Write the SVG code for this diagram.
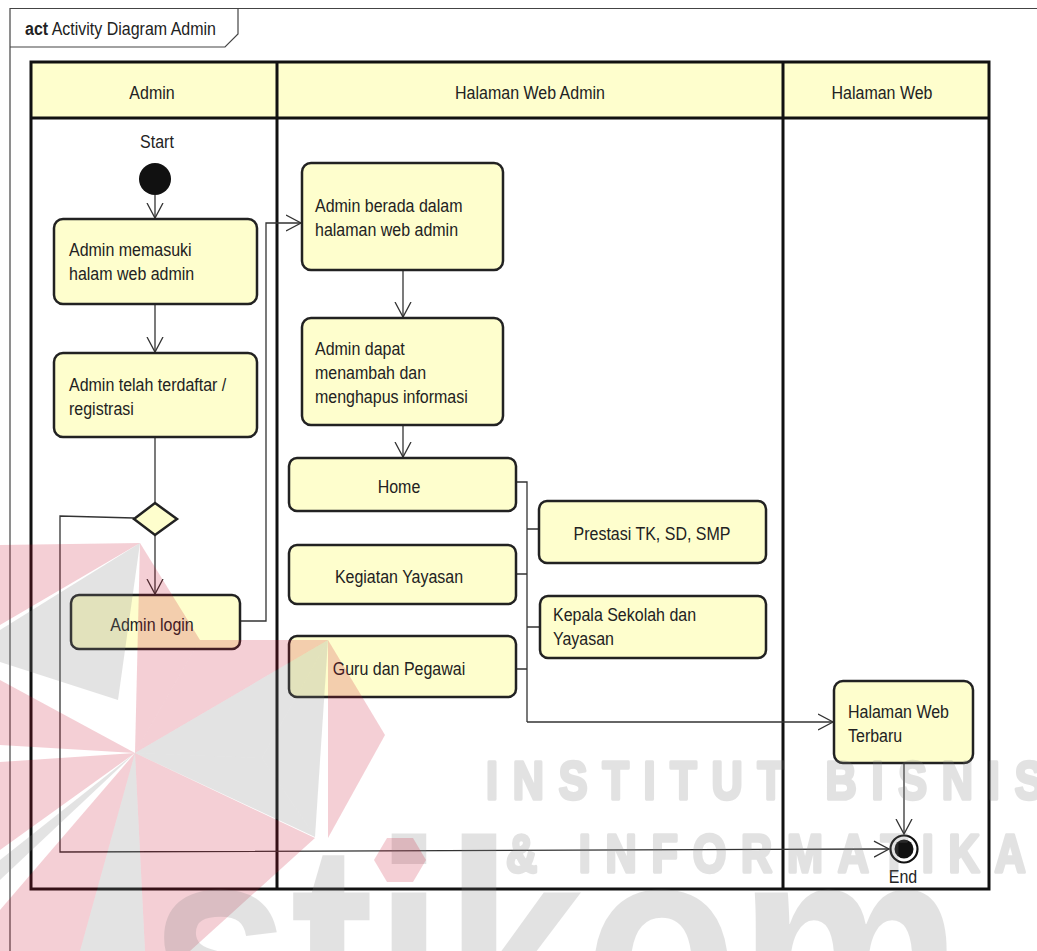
<svg xmlns="http://www.w3.org/2000/svg" width="1037" height="951" viewBox="0 0 1037 951">
<defs>
<style>
.box{fill:#fefecd;stroke:#222;stroke-width:2.5}
.lane{fill:none;stroke:#111;stroke-width:3}
.ln{fill:none;stroke:#333;stroke-width:1.3}
.t{font-family:"Liberation Sans",Arial,sans-serif;font-size:16px;fill:#222}
.c{text-anchor:middle}
.wr{fill:#c8102e;opacity:0.2}
.wg{fill:#808080;opacity:0.22}
.wt{font-family:"Liberation Sans",Arial,sans-serif;font-weight:bold;fill:#808080;opacity:0.22}
.ws{stroke:#808080;stroke-width:3.5;stroke-linejoin:round}
</style>
<marker id="arr" markerUnits="userSpaceOnUse" markerWidth="17" markerHeight="19" viewBox="0 0 17 19" refX="15.5" refY="9.5" orient="auto">
<path d="M0.5,1.5 L15.5,9.5 L0.5,17.5" fill="none" stroke="#333" stroke-width="1.3"/>
</marker>
</defs>
<rect width="1037" height="951" fill="#fff"/>

<g id="frame">
<path d="M10,951 V8.5 H1037" fill="none" stroke="#444" stroke-width="1.2"/>
<path d="M10,47 H225 L238,34 V8.5" fill="none" stroke="#444" stroke-width="1.2"/>
<text class="t" fill="#111" transform="translate(25,35) scale(1,1.12)"><tspan font-weight="bold">act</tspan> Activity Diagram Admin</text>
</g>

<g id="lanes">
<rect x="31" y="62" width="958" height="56" fill="#fefecd"/>
<rect class="lane" x="31" y="62" width="958" height="827"/>
<path class="lane" d="M31,118 H989 M277,62 V889 M783,62 V889"/>
<text class="t c" fill="#333" transform="translate(152,99) scale(1,1.12)">Admin</text>
<text class="t c" fill="#333" transform="translate(530,99) scale(1,1.12)">Halaman Web Admin</text>
<text class="t c" fill="#333" transform="translate(882,99) scale(1,1.12)">Halaman Web</text>
</g>

<g id="connectors">
<path class="ln" d="M155,195 V218" marker-end="url(#arr)"/>
<path class="ln" d="M155,304 V352" marker-end="url(#arr)"/>
<path class="ln" d="M155,437 V503"/>
<path class="ln" d="M155,535 V594" marker-end="url(#arr)"/>
<path class="ln" d="M240,621 H266 V223 H301" marker-end="url(#arr)"/>
<path class="ln" d="M134,518 L60,516 V852 L889,849" marker-end="url(#arr)"/>
<path class="ln" d="M403,270 V317" marker-end="url(#arr)"/>
<path class="ln" d="M403,425 V457" marker-end="url(#arr)"/>
<path class="ln" d="M516,482 H527 V722 M527,529 H539 M516,574 H527 M527,627 H540 M516,669 H527"/>
<path class="ln" d="M527,722 H833" marker-end="url(#arr)"/>
<path class="ln" d="M904,763 V834" marker-end="url(#arr)"/>
</g>

<g id="start">
<text class="t c" transform="translate(157,148) scale(1,1.12)">Start</text>
<circle cx="155" cy="179" r="16" fill="#111"/>
</g>

<g id="n-memasuki">
<rect class="box" x="54" y="219" width="203" height="85" rx="9"/>
<text class="t" transform="translate(69,256) scale(1,1.12)"><tspan x="0" y="0">Admin memasuki</tspan><tspan x="0" y="21.4">halam web admin</tspan></text>
</g>

<g id="n-terdaftar">
<rect class="box" x="54" y="353" width="203" height="84" rx="9"/>
<text class="t" transform="translate(69,391) scale(1,1.12)"><tspan x="0" y="0">Admin telah terdaftar /</tspan><tspan x="0" y="21.4">registrasi</tspan></text>
</g>

<g id="decision">
<path class="box" d="M155,503 L177,519 L155,535 L134,519 Z"/>
</g>

<g id="n-login">
<rect class="box" x="71" y="595" width="169" height="54" rx="8"/>
<text class="t c" transform="translate(152,631) scale(1,1.12)">Admin login</text>
</g>

<g id="n-berada">
<rect class="box" x="302" y="163" width="201" height="107" rx="9"/>
<text class="t" transform="translate(315,212) scale(1,1.12)"><tspan x="0" y="0">Admin berada dalam</tspan><tspan x="0" y="21.4">halaman web admin</tspan></text>
</g>

<g id="n-menambah">
<rect class="box" x="302" y="318" width="201" height="107" rx="9"/>
<text class="t" transform="translate(315,355) scale(1,1.12)"><tspan x="0" y="0">Admin dapat</tspan><tspan x="0" y="21.4">menambah dan</tspan><tspan x="0" y="42.8">menghapus informasi</tspan></text>
</g>

<g id="n-home">
<rect class="box" x="289" y="458" width="227" height="53" rx="8"/>
<text class="t c" transform="translate(399,493) scale(1,1.12)">Home</text>
</g>

<g id="n-kegiatan">
<rect class="box" x="289" y="545" width="227" height="59" rx="8"/>
<text class="t c" transform="translate(399,583) scale(1,1.12)">Kegiatan Yayasan</text>
</g>

<g id="n-guru">
<rect class="box" x="289" y="636" width="227" height="61" rx="8"/>
<text class="t c" transform="translate(399,675) scale(1,1.12)">Guru dan Pegawai</text>
</g>

<g id="n-prestasi">
<rect class="box" x="539" y="501" width="227" height="62" rx="8"/>
<text class="t c" transform="translate(652,540) scale(1,1.12)">Prestasi TK, SD, SMP</text>
</g>

<g id="n-kepala">
<rect class="box" x="540" y="596" width="226" height="62" rx="8"/>
<text class="t" transform="translate(553,621) scale(1,1.12)"><tspan x="0" y="0">Kepala Sekolah dan</tspan><tspan x="0" y="21.4">Yayasan</tspan></text>
</g>

<g id="n-terbaru">
<rect class="box" x="834" y="681" width="139" height="82" rx="9"/>
<text class="t" transform="translate(848,718) scale(1,1.12)"><tspan x="0" y="0">Halaman Web</tspan><tspan x="0" y="21.4">Terbaru</tspan></text>
</g>

<g id="end">
<circle cx="904" cy="849" r="13.5" fill="#fff" stroke="#111" stroke-width="2.2"/>
<circle cx="904" cy="849" r="9.5" fill="#111"/>
<text class="t c" fill="#333" transform="translate(903,883) scale(1,1.12)">End</text>
</g>

<g id="watermark">
<polygon class="wr" points="0,545 140,543 0,625"/>
<polygon class="wg" points="0,630 140,543 118,700 0,662"/>
<polygon class="wr" points="140,543 200,640 135,753"/>
<polygon class="wr" points="200,640 328,640 135,753"/>
<polygon class="wg" points="135,753 328,640 262,758"/>
<polygon class="wg" points="328,640 315,837 262,758"/>
<polygon class="wr" points="328,640 385,735 328,838"/>
<polygon class="wg" points="135,753 262,758 315,837"/>
<polygon class="wr" points="135,753 315,838 190,951 145,951"/>
<polygon class="wg" points="135,753 145,951 80,951"/>
<polygon class="wr" points="135,753 80,951 0,951 0,910"/>
<polygon class="wg" points="135,753 0,860 0,880"/>
<polygon class="wr" points="135,753 0,762 0,850"/>
<polygon class="wr" points="0,680 135,753 0,745"/>
<text class="wt ws" font-size="54" letter-spacing="18.5" transform="translate(486,799) scale(0.8,1)">INSTITUT BISNIS</text>
<text class="wt ws" font-size="54" letter-spacing="18.5" transform="translate(506,872) scale(0.8,1)">&amp; INFORMATIKA</text>
<text class="wt" font-size="300" transform="translate(150,1051) scale(0.84,1)">stikom</text>
<polygon class="wr" points="387,838 413,838 426,860 413,882 387,882 374,860"/>
</g>
</svg>
